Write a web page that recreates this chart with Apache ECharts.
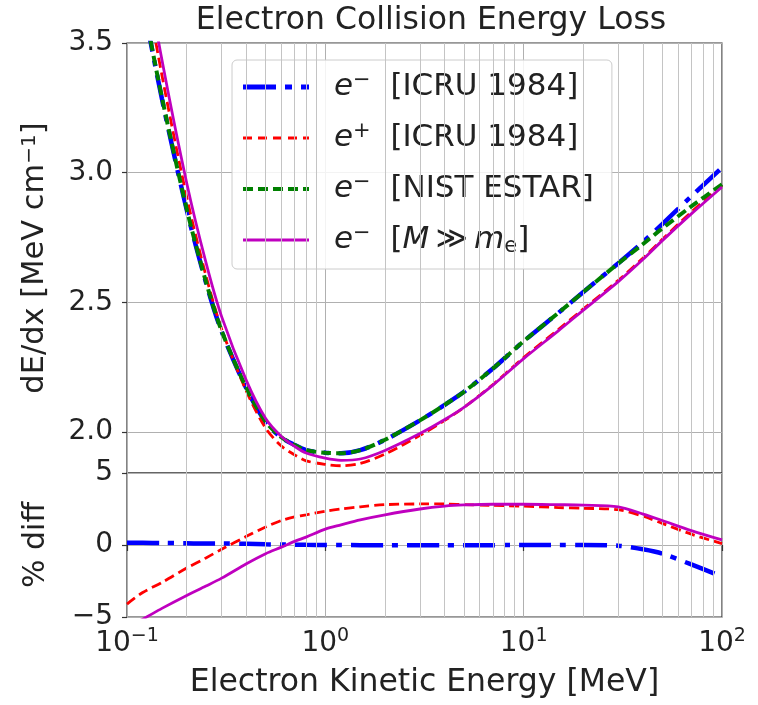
<!DOCTYPE html>
<html>
<head>
<meta charset="utf-8">
<script src="https://cdn.jsdelivr.net/npm/echarts@6/dist/echarts.min.js"></script>
<style>
  html, body { margin: 0; padding: 0; background: #fff; }
  #chart { width: 758px; height: 705px; }
</style>
</head>
<body>
<div id="chart"></div>
<script>
// Electron kinetic energy grid [MeV]
const energy = [0.1, 0.12, 0.15, 0.2, 0.25, 0.3, 0.4, 0.5, 0.6, 0.7, 0.8, 1, 1.2, 1.5, 2, 3, 4, 5, 7, 10, 15, 20, 30, 40, 50, 70, 100];

// Collision stopping power dE/dx [MeV cm^-1]
const dedxIcruElectron = [4.014, 3.665, 3.285, 2.857, 2.577, 2.388, 2.168, 2.039, 1.979, 1.95, 1.93, 1.92, 1.918, 1.93, 1.97, 2.045, 2.105, 2.155, 2.245, 2.35, 2.46, 2.54, 2.651, 2.733, 2.802, 2.909, 3.02];
const dedxIcruPositron = [4.185, 3.791, 3.376, 2.906, 2.603, 2.397, 2.157, 2.015, 1.946, 1.912, 1.889, 1.875, 1.870, 1.879, 1.915, 1.987, 2.045, 2.095, 2.183, 2.287, 2.396, 2.475, 2.585, 2.671, 2.743, 2.848, 2.952];
const dedxEstar = [4.02, 3.67, 3.29, 2.86, 2.58, 2.39, 2.17, 2.04, 1.98, 1.95, 1.93, 1.92, 1.918, 1.93, 1.97, 2.045, 2.105, 2.155, 2.245, 2.35, 2.46, 2.54, 2.65, 2.725, 2.785, 2.87, 2.955];
const dedxHeavy = [4.249, 3.859, 3.435, 2.960, 2.654, 2.445, 2.198, 2.052, 1.983, 1.945, 1.919, 1.899, 1.891, 1.896, 1.929, 1.994, 2.048, 2.095, 2.181, 2.283, 2.391, 2.470, 2.580, 2.666, 2.738, 2.841, 2.945];

// Percent difference against NIST ESTAR
const diffIcruElectron = [0.15, 0.15, 0.14, 0.12, 0.1, 0.1, 0.08, 0.05, 0.03, 0.02, 0.01, 0, 0, -0.01, -0.02, -0.02, -0.02, -0.02, -0.01, 0, 0, 0, -0.05, -0.3, -0.6, -1.35, -2.2];
const diffIcruPositron = [-4.1, -3.3, -2.6, -1.6, -0.9, -0.3, 0.6, 1.25, 1.7, 1.95, 2.1, 2.35, 2.5, 2.65, 2.8, 2.85, 2.85, 2.8, 2.75, 2.7, 2.6, 2.55, 2.45, 2.0, 1.5, 0.75, 0.1];
const diffHeavy = [-5.7, -5.15, -4.4, -3.5, -2.85, -2.3, -1.3, -0.6, -0.15, 0.25, 0.55, 1.1, 1.4, 1.75, 2.1, 2.5, 2.7, 2.78, 2.83, 2.83, 2.8, 2.77, 2.65, 2.15, 1.7, 1.0, 0.35];

// Series names and tick values
const seriesNames = ['e⁻ [ICRU 1984]', 'e⁺ [ICRU 1984]', 'e⁻ [NIST ESTAR]', 'e⁻ [M ≫ mₑ]'];
const legendRich = {
  'e⁻ [ICRU 1984]': '{it|e}{sup|−}  [ICRU 1984]',
  'e⁺ [ICRU 1984]': '{it|e}{sup|+}  [ICRU 1984]',
  'e⁻ [NIST ESTAR]': '{it|e}{sup|−}  [NIST ESTAR]',
  'e⁻ [M ≫ mₑ]': '{it|e}{sup|−}  [{it|M}\u2009≫\u2009{it|m}{sub|e}]'
};
const minorTicks = [0.2, 0.3, 0.4, 0.5, 0.6, 0.7, 0.8, 0.9, 2, 3, 4, 5, 6, 7, 8, 9, 20, 30, 40, 50, 60, 70, 80, 90];
const topTicks = [2.0, 2.5, 3.0, 3.5];

const FONT = 'DejaVu Sans';
const TXT = '#222';
const GRID_C = '#b0b0b0';
const MINOR_C = '#c4c4c4';

const pairs = ys => energy.map((e, i) => [e, ys[i]]);

// Line styles, with matching legend swatches (dash pieces in a 66px-wide sample)
const styles = [
  { color: '#0000ff', width: 4.5, type: [32, 9, 6, 9],
    icon: 'path://M0,0h33v5h-33zM42,0h7v5h-7zM58,0h8v5h-8z' },
  { color: '#ff0000', width: 2.8, type: [10, 5],
    icon: 'path://M0,0h9v3h-9zM15,0h9v3h-9zM30,0h9v3h-9zM45,0h9v3h-9zM60,0h6v3h-6z' },
  { color: '#008000', width: 4, type: [10, 5],
    icon: 'path://M0,0h10v4h-10zM15,0h10v4h-10zM30,0h10v4h-10zM45,0h10v4h-10zM60,0h6v4h-6z' },
  { color: '#bf00bf', width: 2.8, type: 'solid',
    icon: 'path://M0,0h66v3h-66z' }
];

function lineSeries(idx, ys, gridIdx) {
  const s = styles[idx];
  return {
    name: seriesNames[idx],
    type: 'line',
    xAxisIndex: gridIdx, yAxisIndex: gridIdx,
    data: pairs(ys),
    symbol: 'none',
    smooth: 0.3,
    clip: true,
    z: 3 + idx,
    lineStyle: { color: s.color, width: s.width, type: s.type, cap: 'butt' },
    itemStyle: { color: s.color }
  };
}

function minorGridSeries(gridIdx) {
  return {
    type: 'line', xAxisIndex: gridIdx, yAxisIndex: gridIdx,
    data: [], z: 1, silent: true,
    markLine: {
      silent: true, symbol: 'none', animation: false,
      label: { show: false },
      lineStyle: { color: MINOR_C, width: 1, type: 'solid' },
      emphasis: { disabled: true },
      data: minorTicks.map(v => ({ xAxis: v }))
    }
  };
}

const xLabelFmt = v => {
  const p = Math.round(Math.log10(v));
  return '{b|10}{s|' + (p < 0 ? '−' + (-p) : p) + '}';
};

const chart = echarts.init(document.getElementById('chart'), null, { renderer: 'canvas' });

chart.setOption({
  animation: false,
  backgroundColor: '#fff',
  textStyle: { fontFamily: FONT, color: TXT },
  title: {
    text: 'Electron Collision Energy Loss',
    left: 426, top: 0, textAlign: 'center',
    textStyle: { fontFamily: FONT, fontSize: 31.5, fontWeight: 'normal', color: TXT }
  },
  legend: {
    data: seriesNames.map((n, i) => ({
      name: n,
      icon: styles[i].icon,
      itemStyle: { color: styles[i].color, opacity: 1, borderWidth: 0 }
    })),
    orient: 'vertical',
    left: 232, top: 60,
    itemWidth: 66, itemHeight: 14, itemGap: 17,
    symbolKeepAspect: true,
    padding: [10, 18, 12, 11],
    backgroundColor: 'rgba(255,255,255,0.85)',
    borderColor: '#cccccc', borderWidth: 1, borderRadius: 5,
    selectedMode: false,
    formatter: n => legendRich[n],
    textStyle: {
      fontFamily: FONT, fontSize: 31, color: TXT, lineHeight: 34, padding: [0, 0, 0, 20],
      rich: {
        it: { fontFamily: FONT, fontStyle: 'italic', fontSize: 31, color: TXT, lineHeight: 34 },
        sup: { fontFamily: FONT, fontSize: 21, color: TXT, verticalAlign: 'top', lineHeight: 18 },
        sub: { fontFamily: FONT, fontSize: 21, color: TXT, verticalAlign: 'bottom', lineHeight: 16 }
      }
    }
  },
  grid: [
    { left: 127, right: 36, top: 43, height: 430, show: true, borderColor: '#333', borderWidth: 1.2, backgroundColor: 'transparent' },
    { left: 127, right: 36, top: 473, height: 144, show: true, borderColor: '#333', borderWidth: 1.2, backgroundColor: 'transparent' }
  ],
  xAxis: [
    {
      gridIndex: 0, type: 'log', logBase: 10, min: 0.1, max: 100,
      axisLine: { show: false }, axisTick: { show: false }, axisLabel: { show: false },
      splitLine: { show: true, lineStyle: { color: GRID_C, width: 1 } }
    },
    {
      gridIndex: 1, type: 'log', logBase: 10, min: 0.1, max: 100,
      axisLine: { show: false },
      axisTick: { show: true, length: 6, lineStyle: { color: '#333', width: 1.2 } },
      axisLabel: {
        show: true, margin: 10, formatter: xLabelFmt,
        rich: {
          b: { fontFamily: FONT, fontSize: 28, color: TXT, lineHeight: 34 },
          s: { fontFamily: FONT, fontSize: 19, color: TXT, verticalAlign: 'top', lineHeight: 20 }
        }
      },
      splitLine: { show: true, lineStyle: { color: GRID_C, width: 1 } },
      name: 'Electron Kinetic Energy [MeV]',
      nameLocation: 'middle', nameGap: 50,
      nameTextStyle: { fontFamily: FONT, fontSize: 31.5, color: TXT }
    }
  ],
  yAxis: [
    {
      gridIndex: 0, type: 'value', min: 1.842, max: 3.5,
      splitNumber: 3, minInterval: 0.5, maxInterval: 0.5,
      axisLine: { show: false },
      axisTick: { show: true, length: 5, lineStyle: { color: '#333', width: 1.2 } },
      axisLabel: {
        margin: 14, fontFamily: FONT, fontSize: 28, color: TXT, showMinLabel: false,
        formatter: v => topTicks.some(t => Math.abs(t - v) < 1e-6) ? v.toFixed(1) : ''
      },
      splitLine: { show: true, lineStyle: { color: GRID_C, width: 1 } },
      name: 'dE/dx [MeV cm{sup|−1}]',
      nameLocation: 'middle', nameGap: 76,
      nameTextStyle: {
        fontFamily: FONT, fontSize: 30.5, color: TXT,
        rich: { sup: { fontFamily: FONT, fontSize: 20, color: TXT, verticalAlign: 'top', lineHeight: 18 } }
      }
    },
    {
      gridIndex: 1, type: 'value', min: -5, max: 5, interval: 5,
      axisLine: { show: false },
      axisTick: { show: true, length: 5, lineStyle: { color: '#333', width: 1.2 } },
      axisLabel: {
        margin: 14, fontFamily: FONT, fontSize: 28, color: TXT,
        formatter: v => (v < 0 ? '−' + (-v) : String(v))
      },
      splitLine: { show: true, lineStyle: { color: GRID_C, width: 1 } },
      name: '% diff',
      nameLocation: 'middle', nameGap: 76,
      nameTextStyle: { fontFamily: FONT, fontSize: 30, color: TXT }
    }
  ],
  series: [
    minorGridSeries(0),
    minorGridSeries(1),
    lineSeries(0, dedxIcruElectron, 0),
    lineSeries(1, dedxIcruPositron, 0),
    lineSeries(2, dedxEstar, 0),
    lineSeries(3, dedxHeavy, 0),
    lineSeries(0, diffIcruElectron, 1),
    lineSeries(1, diffIcruPositron, 1),
    lineSeries(3, diffHeavy, 1)
  ]
});
</script>
</body>
</html>
